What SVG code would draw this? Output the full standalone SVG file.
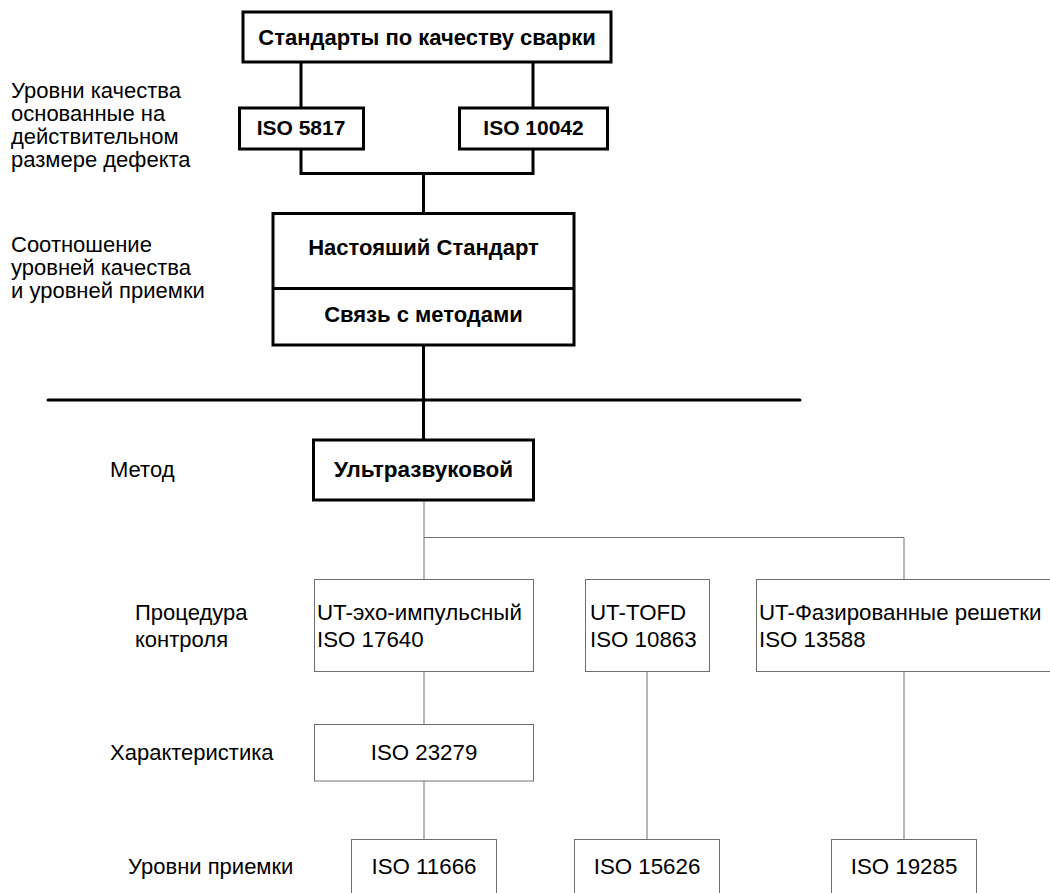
<svg xmlns="http://www.w3.org/2000/svg" width="1050" height="893" viewBox="0 0 1050 893">
<style>
  text { font-family: "Liberation Sans", Arial, sans-serif; fill: #000; }
  .b { font-weight: bold; font-size: 22px; text-anchor: middle; }
  .lbl { font-size: 22px; }
  .n { font-size: 22.3px; }
  .c { text-anchor: middle; }
  .thick { fill: #fff; stroke: #000; stroke-width: 3; }
  .thin { fill: #fff; stroke: #6e6e6e; stroke-width: 1; }
  .tl { fill: none; stroke: #000; stroke-width: 3; }
  .gl { fill: none; stroke: #6e6e6e; stroke-width: 1; }
</style>
<rect width="1050" height="893" fill="#fff"/>
<g id="connectors">
  <path class="tl" d="M301 62 V108 M533 62 V108 M301 149 V173.5 H533 V149 M423.5 173.5 V213 M423.5 345 V440"/>
  <path class="tl" d="M48 400 H800" stroke-linecap="round"/>
  <path class="gl" d="M424 500 V579 M424 537.5 H904 V579 M424 672 V724 M424 781 V839 M647 672 V839 M904 672 V839"/>
</g>
<g id="labels">
  <text class="lbl" x="11" y="98">Уровни качества</text>
  <text class="lbl" x="11" y="121">основанные на</text>
  <text class="lbl" x="11" y="144">действительном</text>
  <text class="lbl" x="11" y="167">размере дефекта</text>
  <text class="lbl" x="11" y="252">Соотношение</text>
  <text class="lbl" x="11" y="275">уровней качества</text>
  <text class="lbl" x="11" y="298">и уровней приемки</text>
  <text class="lbl" x="110" y="477">Метод</text>
  <text class="lbl" x="135" y="620">Процедура</text>
  <text class="lbl" x="135" y="647">контроля</text>
  <text class="lbl" x="110" y="760">Характеристика</text>
  <text class="lbl" x="128" y="874">Уровни приемки</text>
</g>
<g id="node-top">
  <rect class="thick" x="243" y="12" width="368" height="50"/>
  <text class="b" x="427" y="45">Стандарты по качеству сварки</text>
</g>
<g id="node-iso5817">
  <rect class="thick" x="239.5" y="108" width="124" height="41"/>
  <text class="b" x="301" y="135" style="font-size:21px">ISO 5817</text>
</g>
<g id="node-iso10042">
  <rect class="thick" x="459.5" y="108" width="148" height="41"/>
  <text class="b" x="533.5" y="135" style="font-size:21px">ISO 10042</text>
</g>
<g id="node-main">
  <rect class="thick" x="273" y="213.5" width="301" height="131.5"/>
  <line class="tl" x1="273" y1="288.5" x2="574" y2="288.5"/>
  <text class="b" x="423.5" y="255">Настояший Стандарт</text>
  <text class="b" x="423.5" y="322">Связь с методами</text>
</g>
<g id="node-ut">
  <rect class="thick" x="313.5" y="440" width="220" height="60"/>
  <text class="b" x="423.5" y="477" style="font-size:22.5px">Ультразвуковой</text>
</g>
<g id="node-echo">
  <rect class="thin" x="314.5" y="579.5" width="219" height="92"/>
  <text class="n" x="317" y="620">UT-эхо-импульсный</text>
  <text class="n" x="317" y="647">ISO 17640</text>
</g>
<g id="node-tofd">
  <rect class="thin" x="585.5" y="579.5" width="124" height="92"/>
  <text class="n" x="590" y="620">UT-TOFD</text>
  <text class="n" x="590" y="647">ISO 10863</text>
</g>
<g id="node-pa">
  <rect class="thin" x="756.5" y="579.5" width="310" height="92"/>
  <text class="n" x="759" y="620">UT-Фазированные решетки</text>
  <text class="n" x="759" y="647">ISO 13588</text>
</g>
<g id="node-iso23279">
  <rect class="thin" x="314.5" y="724.5" width="219" height="56.5"/>
  <text class="n c" x="424" y="760">ISO 23279</text>
</g>
<g id="node-iso11666">
  <rect class="thin" x="351.5" y="839.5" width="145" height="70"/>
  <text class="n c" x="424" y="874">ISO 11666</text>
</g>
<g id="node-iso15626">
  <rect class="thin" x="574.5" y="839.5" width="145" height="70"/>
  <text class="n c" x="647" y="874">ISO 15626</text>
</g>
<g id="node-iso19285">
  <rect class="thin" x="831.5" y="839.5" width="145" height="70"/>
  <text class="n c" x="904" y="874">ISO 19285</text>
</g>
</svg>
